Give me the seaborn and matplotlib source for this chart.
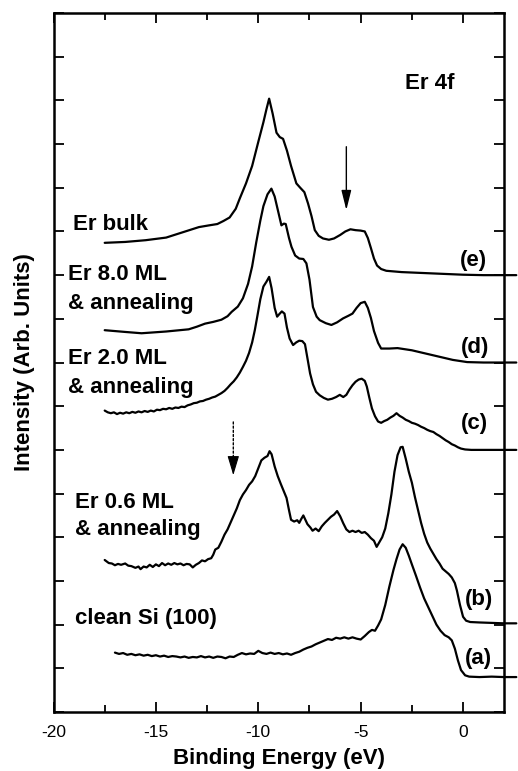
import numpy as np
import pandas as pd
import seaborn as sns
import matplotlib.pyplot as plt
from matplotlib.ticker import MultipleLocator

# (binding energy eV, intensity offset units)
clean_si = [(-17.0,1.36),(-16.8,1.33),(-16.6,1.35),(-16.4,1.31),(-16.2,1.33),(-16.0,1.30),(-15.8,1.32),
            (-15.6,1.29),(-15.4,1.31),(-15.2,1.28),(-15.0,1.30),(-14.8,1.27),(-14.6,1.29),(-14.4,1.26),
            (-14.2,1.28),(-14.0,1.27),(-13.8,1.25),(-13.6,1.27),(-13.4,1.24),(-13.2,1.26),(-13.0,1.25),
            (-12.8,1.28),(-12.6,1.25),(-12.4,1.27),(-12.2,1.24),(-12.0,1.27),(-11.8,1.26),(-11.6,1.23),
            (-11.4,1.27),(-11.2,1.26),(-11.0,1.31),(-10.8,1.35),(-10.6,1.32),(-10.4,1.34),(-10.2,1.33),
            (-10.0,1.40),(-9.8,1.35),(-9.6,1.33),(-9.4,1.36),(-9.2,1.33),(-9.0,1.35),(-8.8,1.32),
            (-8.6,1.34),(-8.4,1.31),(-8.2,1.35),(-8.0,1.38),(-7.8,1.43),(-7.6,1.47),(-7.4,1.50),
            (-7.2,1.55),(-7.0,1.59),(-6.8,1.63),(-6.6,1.67),(-6.4,1.65),(-6.2,1.70),(-6.0,1.68),
            (-5.8,1.71),(-5.6,1.68),(-5.4,1.71),(-5.2,1.68),(-5.0,1.66),(-4.8,1.74),(-4.6,1.83),
            (-4.45,1.88),(-4.3,1.86),(-4.15,1.98),(-4.0,2.12),(-3.8,2.45),(-3.6,2.87),(-3.4,3.25),
            (-3.25,3.50),(-3.1,3.72),(-2.95,3.84),(-2.8,3.76),(-2.65,3.58),(-2.5,3.38),(-2.3,3.12),
            (-2.1,2.85),(-1.9,2.60),(-1.7,2.40),(-1.5,2.20),(-1.3,2.00),(-1.1,1.86),(-0.9,1.76),
            (-0.7,1.71),(-0.55,1.64),(-0.4,1.45),(-0.25,1.18),(-0.1,0.96),(0.1,0.84),(0.3,0.81),
            (0.8,0.80),(1.4,0.81),(2.0,0.80),(2.6,0.80)]

er_06 = [(-17.5,3.48),(-17.3,3.41),(-17.15,3.40),(-17.0,3.36),(-16.85,3.39),(-16.7,3.37),(-16.5,3.40),
         (-16.35,3.35),(-16.2,3.34),(-16.0,3.30),(-15.85,3.33),(-15.75,3.27),(-15.6,3.33),(-15.45,3.31),
         (-15.3,3.37),(-15.15,3.32),(-15.0,3.38),(-14.85,3.34),(-14.7,3.41),(-14.55,3.36),(-14.4,3.40),
         (-14.25,3.37),(-14.1,3.41),(-13.95,3.38),(-13.8,3.40),(-13.65,3.36),(-13.5,3.39),(-13.35,3.38),
         (-13.2,3.31),(-13.05,3.37),(-12.9,3.41),(-12.75,3.47),(-12.6,3.45),(-12.45,3.50),(-12.3,3.52),
         (-12.2,3.60),(-12.1,3.72),(-11.95,3.76),(-11.8,3.90),(-11.65,4.06),(-11.5,4.18),(-11.35,4.34),
         (-11.2,4.50),(-11.05,4.66),(-10.9,4.85),(-10.75,4.98),(-10.6,5.08),(-10.45,5.20),(-10.3,5.28),
         (-10.15,5.40),(-10.0,5.58),(-9.85,5.76),(-9.7,5.82),(-9.55,5.86),(-9.45,5.97),(-9.35,5.90),
         (-9.2,5.62),(-9.05,5.40),(-8.9,5.22),(-8.75,5.05),(-8.62,4.90),(-8.5,4.62),(-8.4,4.40),
         (-8.25,4.36),(-8.1,4.39),(-8.0,4.33),(-7.9,4.42),(-7.8,4.50),(-7.7,4.40),(-7.6,4.30),
         (-7.45,4.22),(-7.35,4.15),(-7.2,4.20),(-7.05,4.14),(-6.9,4.25),(-6.75,4.33),(-6.6,4.40),
         (-6.45,4.47),(-6.3,4.52),(-6.15,4.60),(-6.0,4.48),(-5.85,4.32),(-5.7,4.18),(-5.55,4.12),
         (-5.4,4.15),(-5.25,4.12),(-5.1,4.15),(-4.95,4.10),(-4.8,4.12),(-4.65,4.06),(-4.5,3.98),
         (-4.35,3.92),(-4.22,3.78),(-4.1,3.88),(-3.95,4.00),(-3.8,4.20),(-3.65,4.55),(-3.5,4.98),
         (-3.35,5.50),(-3.2,5.88),(-3.05,6.06),(-2.95,6.07),(-2.8,5.80),(-2.65,5.50),(-2.5,5.25),
         (-2.35,4.92),(-2.2,4.62),(-2.05,4.33),(-1.9,4.08),(-1.75,3.88),(-1.6,3.74),(-1.45,3.62),
         (-1.3,3.50),(-1.15,3.40),(-1.0,3.28),(-0.85,3.22),(-0.7,3.16),(-0.55,3.08),(-0.4,2.95),
         (-0.3,2.78),(-0.15,2.45),(0.0,2.18),(0.15,2.09),(0.35,2.06),(0.8,2.05),(1.4,2.04),
         (2.0,2.03),(2.6,2.03)]

er_20 = [(-17.5,6.90),(-17.35,6.86),(-17.2,6.84),(-17.05,6.86),(-16.9,6.82),(-16.75,6.85),(-16.6,6.83),
         (-16.45,6.86),(-16.3,6.84),(-16.15,6.87),(-16.0,6.85),(-15.85,6.88),(-15.7,6.86),(-15.55,6.89),
         (-15.4,6.87),(-15.25,6.90),(-15.1,6.88),(-14.95,6.92),(-14.8,6.91),(-14.65,6.94),(-14.5,6.93),
         (-14.35,6.96),(-14.2,6.94),(-14.05,6.97),(-13.9,6.96),(-13.75,6.99),(-13.6,6.98),(-13.45,7.02),
         (-13.3,7.04),(-13.15,7.07),(-13.0,7.08),(-12.85,7.11),(-12.7,7.12),(-12.55,7.15),(-12.4,7.17),
         (-12.25,7.20),(-12.1,7.22),(-11.95,7.26),(-11.8,7.30),(-11.65,7.35),(-11.5,7.42),(-11.35,7.50),
         (-11.2,7.57),(-11.05,7.66),(-10.9,7.77),(-10.75,7.90),(-10.6,8.04),(-10.45,8.22),(-10.3,8.46),
         (-10.17,8.74),(-10.05,9.05),(-9.9,9.45),(-9.75,9.74),(-9.6,9.85),(-9.47,9.96),(-9.35,9.70),
         (-9.2,9.25),(-9.08,9.05),(-8.95,9.12),(-8.85,9.17),(-8.72,9.12),(-8.6,8.80),(-8.47,8.55),
         (-8.3,8.40),(-8.15,8.46),(-8.0,8.50),(-7.85,8.49),(-7.72,8.42),(-7.6,8.10),(-7.47,7.75),
         (-7.33,7.50),(-7.18,7.33),(-7.0,7.25),(-6.8,7.19),(-6.6,7.15),(-6.4,7.17),(-6.2,7.21),
         (-6.02,7.26),(-5.85,7.21),(-5.7,7.26),(-5.55,7.38),(-5.4,7.48),(-5.25,7.56),(-5.1,7.61),
         (-4.95,7.63),(-4.8,7.58),(-4.7,7.45),(-4.58,7.20),(-4.45,6.95),(-4.3,6.77),(-4.15,6.65),
         (-4.0,6.62),(-3.85,6.66),(-3.7,6.69),(-3.55,6.74),(-3.4,6.78),(-3.25,6.84),(-3.1,6.78),
         (-2.95,6.74),(-2.8,6.69),(-2.65,6.66),(-2.5,6.62),(-2.35,6.60),(-2.2,6.57),(-2.05,6.53),
         (-1.9,6.50),(-1.75,6.46),(-1.6,6.43),(-1.45,6.41),(-1.3,6.36),(-1.15,6.32),(-1.0,6.27),
         (-0.85,6.22),(-0.7,6.18),(-0.55,6.13),(-0.4,6.10),(-0.25,6.06),(-0.1,6.03),(0.1,6.01),
         (0.4,6.00),(1.0,6.00),(2.0,6.00),(2.6,6.00)]

er_80 = [(-17.5,8.74),(-16.5,8.70),(-15.7,8.67),(-14.5,8.71),(-13.4,8.76),(-13.0,8.82),(-12.6,8.89),
         (-12.2,8.93),(-11.8,8.98),(-11.5,9.06),(-11.3,9.16),(-11.0,9.28),(-10.75,9.47),(-10.5,9.80),
         (-10.3,10.20),(-10.1,10.75),(-9.9,11.25),(-9.75,11.58),(-9.55,11.85),(-9.36,11.98),(-9.2,11.80),
         (-9.0,11.40),(-8.87,11.14),(-8.75,11.18),(-8.66,11.17),(-8.5,10.85),(-8.38,10.65),(-8.2,10.45),
         (-8.0,10.38),(-7.8,10.37),(-7.65,10.27),(-7.5,9.90),(-7.33,9.27),(-7.15,9.05),(-7.0,8.97),
         (-6.7,8.90),(-6.43,8.86),(-6.15,8.92),(-5.86,9.01),(-5.6,9.07),(-5.4,9.12),(-5.2,9.25),
         (-5.0,9.36),(-4.8,9.39),(-4.65,9.25),(-4.5,9.02),(-4.35,8.72),(-4.15,8.45),(-4.0,8.32),
         (-3.6,8.32),(-3.2,8.33),(-2.5,8.28),(-1.5,8.17),(-0.5,8.06),(0.2,8.01),(1.0,8.00),
         (2.0,8.00),(2.6,8.00)]

er_bulk = [(-17.5,10.74),(-16.5,10.76),(-15.5,10.80),(-14.5,10.86),(-13.7,10.98),(-12.9,11.10),
           (-12.4,11.14),(-12.0,11.17),(-11.7,11.24),(-11.4,11.32),(-11.1,11.52),(-10.9,11.76),
           (-10.6,12.10),(-10.3,12.50),(-10.0,13.05),(-9.75,13.50),(-9.6,13.80),(-9.47,14.04),
           (-9.3,13.70),(-9.11,13.26),(-8.95,13.16),(-8.79,13.12),(-8.6,12.85),(-8.4,12.50),
           (-8.14,12.10),(-7.95,12.00),(-7.75,11.90),(-7.57,11.64),(-7.4,11.35),(-7.24,11.03),
           (-7.05,10.90),(-6.84,10.84),(-6.55,10.81),(-6.3,10.84),(-6.0,10.92),(-5.75,11.00),
           (-5.5,11.05),(-5.25,11.03),(-5.0,11.02),(-4.8,11.00),(-4.65,10.85),(-4.5,10.62),
           (-4.35,10.38),(-4.2,10.22),(-4.0,10.14),(-3.75,10.10),(-3.0,10.07),(-2.0,10.05),
           (-1.0,10.03),(0.0,10.01),(1.0,10.00),(2.0,10.00),(2.6,10.00)]

spectra = [clean_si, er_06, er_20, er_80, er_bulk]

# sample labels: (text, x, baseline y)
left_labels = [("clean Si (100)", -18.95, 2.02),
               ("Er 0.6 ML", -18.95, 4.66), ("& annealing", -18.95, 4.05),
               ("Er 2.0 ML", -19.28, 7.97), ("& annealing", -19.28, 7.31),
               ("Er 8.0 ML", -19.28, 9.89), ("& annealing", -19.28, 9.23),
               ("Er bulk", -19.06, 11.03),
               ("Er 4f", -2.85, 14.27)]
right_labels = [("(a)", 0.07, 1.09), ("(b)", 0.07, 2.46), ("(c)", -0.09, 6.47),
                ("(d)", -0.12, 8.22), ("(e)", -0.17, 10.2)]

sns.set_theme(style="ticks")
plt.rcParams['font.family'] = ['Liberation Sans', 'DejaVu Sans']
plt.rcParams['axes.unicode_minus'] = False
plt.rcParams['text.color'] = 'black'
plt.rcParams['axes.labelcolor'] = 'black'

fig = plt.figure(figsize=(5.18, 7.71), dpi=100)
ax = fig.add_axes([0.1033, 0.0765, 0.8697, 0.9066])

for s in spectra:
    df = pd.DataFrame(s, columns=["E", "I"])
    sns.lineplot(data=df, x="E", y="I", ax=ax, color="black", lw=1.6,
                 estimator=None, sort=False, clip_on=False)

for t, x, y in left_labels + right_labels:
    ax.text(x, y, t, fontsize=16, fontweight="bold", ha="left", va="baseline", color="black")

# arrows: solid one over the Er bulk satellite, dotted one over the 0.6 ML shoulder
ax.annotate("", xy=(-5.7, 11.49), xytext=(-5.7, 12.94),
            arrowprops=dict(arrowstyle="-|>,head_length=0.6,head_width=0.15",
                            color="black", lw=1.0, shrinkA=0, shrinkB=0, mutation_scale=20))
ax.annotate("", xy=(-11.22, 5.75), xytext=(-11.22, 6.64),
            arrowprops=dict(arrowstyle="-", color="black", lw=1.0, ls=(0, (1.5, 1.5)),
                            shrinkA=0, shrinkB=0))
ax.annotate("", xy=(-11.22, 5.42), xytext=(-11.22, 5.76),
            arrowprops=dict(arrowstyle="-|>,head_length=0.6,head_width=0.18",
                            color="black", lw=0.8, shrinkA=0, shrinkB=0, mutation_scale=20))

ax.set_xlim(-20, 2)
ax.set_ylim(0, 16)
ax.set_xticks([-20, -15, -10, -5, 0])
ax.xaxis.set_minor_locator(MultipleLocator(2.5))
ax.set_yticks(np.arange(0, 17, 1))
ax.tick_params(which="both", direction="in", top=True, right=True, width=1.3,
               labelleft=False, colors="black")
ax.tick_params(which="major", length=7, pad=9, labelsize=12.5)
ax.tick_params(which="minor", length=5)
for sp in ax.spines.values():
    sp.set_linewidth(1.8)
    sp.set_color("black")

ax.set_xlabel("Binding Energy (eV)", fontsize=16, fontweight="bold", labelpad=6)
ax.set_ylabel("Intensity (Arb. Units)", fontsize=16, fontweight="bold", labelpad=13)

fig.savefig("out.png", dpi=100)
